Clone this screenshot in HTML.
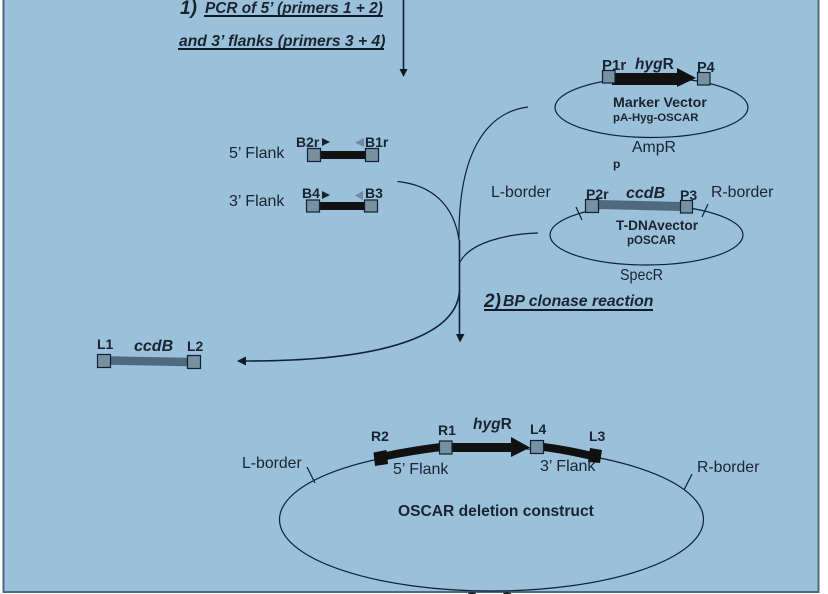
<!DOCTYPE html>
<html><head><meta charset="utf-8"><style>
html,body{margin:0;padding:0;background:#fff}
svg{display:block}
text{font-family:"Liberation Sans",sans-serif;fill:#1a2430}
.b{font-weight:bold}
.i{font-style:italic}
.n{fill:none;stroke:#0d2236;stroke-width:1.2}
.t{fill:none;stroke:#0d2236;stroke-width:1.6}
.s{fill:#78909f;stroke:#0d2236;stroke-width:1.2}
</style></head><body>
<svg width="828" height="594" viewBox="0 0 828 594" xmlns="http://www.w3.org/2000/svg">
<rect x="3.500" y="-3" width="815" height="595" fill="#9ac0da" stroke="#4a6a80" stroke-width="2"/>

<!-- step 1 -->
<text x="180" y="14" class="b i" font-size="19">1)</text>
<text x="205" y="13" class="b i" font-size="15.400">PCR of 5’ (primers 1 + 2)</text>
<rect x="204" y="15" width="179" height="2" fill="#0d1a28"/>
<text x="179" y="46" class="b i" font-size="15.700">and 3’ flanks (primers 3 + 4)</text>
<rect x="178" y="48" width="206" height="2" fill="#0d1a28"/>
<path d="M403.500 0V70" class="t"/>
<path d="M399.500 69H407.500L403.500 77Z" fill="#0d1a28"/>

<!-- Marker vector -->
<ellipse cx="651.500" cy="107.500" rx="96.500" ry="30" class="n"/>
<rect x="612" y="73" width="66" height="12" fill="#111"/>
<path d="M677 68L696 78L677 87Z" fill="#111"/>
<rect x="602.500" y="70.500" width="12.500" height="12.500" class="s"/>
<rect x="697.500" y="72.500" width="12.500" height="12.500" class="s"/>
<text x="602" y="70" font-size="15" class="b">P1r</text>
<text x="635" y="69" font-size="15.500" class="b"><tspan class="i">hyg</tspan>R</text>
<text x="697" y="72" font-size="14.500" class="b">P4</text>
<text x="613" y="107" font-size="14.200" class="b">Marker Vector</text>
<text x="613" y="121" font-size="11.400" class="b">pA-Hyg-OSCAR</text>
<text x="632" y="152" font-size="15.800">AmpR</text>
<text x="613" y="168" font-size="12" class="b">p</text>

<!-- T-DNA vector -->
<ellipse cx="646.500" cy="235" rx="96.500" ry="30" class="n"/>
<path d="M598 204.500L682 206.500" stroke="#4f6a7e" stroke-width="9" fill="none"/>
<rect x="585.500" y="199.500" width="13" height="13" class="s"/>
<rect x="680.500" y="200.500" width="12" height="12.500" class="s"/>
<path d="M576 207L582 220M702 217L708 204" class="n"/>
<text x="491" y="197" font-size="15.800">L-border</text>
<text x="586" y="199" font-size="14" class="b">P2r</text>
<text x="626" y="198" font-size="16" class="b i">ccdB</text>
<text x="680" y="200" font-size="14" class="b">P3</text>
<text x="711" y="197" font-size="15.800">R-border</text>
<text x="616" y="230" font-size="13.500" class="b" textLength="82" lengthAdjust="spacingAndGlyphs">T-DNAvector</text>
<text x="627" y="244" font-size="11.500" class="b">pOSCAR</text>
<text x="620" y="280" font-size="15.800" textLength="43" lengthAdjust="spacingAndGlyphs">SpecR</text>

<!-- step 2 -->
<text x="484" y="307" class="b i" font-size="19">2)</text>
<text x="503" y="306" class="b i" font-size="15.800">BP clonase reaction</text>
<rect x="484" y="309" width="169" height="2" fill="#0d1a28"/>

<!-- flanks -->
<text x="229" y="158" font-size="16">5’ Flank</text>
<text x="229" y="206" font-size="16">3’ Flank</text>
<rect x="320" y="151" width="47" height="8" fill="#111"/>
<rect x="307.500" y="148.500" width="13" height="13" class="s"/>
<rect x="365.500" y="148.500" width="13" height="13" class="s"/>
<text x="296" y="147" font-size="14" class="b">B2r</text>
<text x="365" y="147" font-size="14" class="b">B1r</text>
<path d="M322 138L330 142L322 146Z" fill="#1a2430"/>
<path d="M364 138L355 142.500L364 147Z" fill="#6f8aa3"/>
<rect x="319" y="202" width="47" height="8" fill="#111"/>
<rect x="306.500" y="200" width="13" height="12" class="s"/>
<rect x="364.500" y="200" width="13" height="12" class="s"/>
<text x="302" y="198" font-size="14" class="b">B4</text>
<text x="365" y="198" font-size="14" class="b">B3</text>
<path d="M322 191L330 195L322 199Z" fill="#1a2430"/>
<path d="M363 191L355 195.500L363 200Z" fill="#6f8aa3"/>

<!-- connectors -->
<path d="M528 107C488 112 458 150 459 240" class="n"/>
<path d="M397.500 181.500C432 185 454 205 459 240" class="n"/>
<path d="M538 233C505 234 470 243 460 262" class="n"/>
<path d="M459.500 240V335" class="t"/>
<path d="M456 334H464.500L460 342.500Z" fill="#0d1a28"/>
<path d="M459.500 290C458 330 400 361 245 361" class="t"/>
<path d="M246 356.500V365.500L237 361Z" fill="#0d1a28"/>

<!-- ccdB -->
<path d="M110 360.500L188 362" stroke="#4f6a7e" stroke-width="8.500" fill="none"/>
<rect x="97.500" y="354.500" width="13" height="13" class="s"/>
<rect x="187.500" y="355.500" width="13" height="13" class="s"/>
<text x="97" y="349" font-size="14" class="b">L1</text>
<text x="134" y="351" font-size="16" class="b i">ccdB</text>
<text x="187" y="351" font-size="14" class="b">L2</text>

<!-- deletion construct -->
<ellipse cx="491.500" cy="519.500" rx="212" ry="71.500" class="n"/>
<path d="M307 467L315 483M684 490L692 474" class="n"/>
<path d="M386 456C405 452 425 449 441 447" stroke="#111" stroke-width="8" fill="none"/>
<path d="M373.500 452.500L386.500 450L388 464L375 466Z" fill="#111"/>
<rect x="451" y="443" width="60" height="9" fill="#111"/>
<path d="M511 437L530 447.500L511 457Z" fill="#111"/>
<path d="M543 447C560 449 575 452 592 456" stroke="#111" stroke-width="8" fill="none"/>
<path d="M590 448L602 450L600 463L588 462Z" fill="#111"/>
<rect x="439.500" y="441" width="12.500" height="13" class="s"/>
<rect x="530.500" y="440.500" width="13" height="13" class="s"/>
<text x="371" y="441" font-size="14" class="b">R2</text>
<text x="438" y="435" font-size="14" class="b">R1</text>
<text x="473" y="429" font-size="15.500" class="b"><tspan class="i">hyg</tspan>R</text>
<text x="530" y="434" font-size="14" class="b">L4</text>
<text x="589" y="441" font-size="14" class="b">L3</text>
<text x="393" y="474" font-size="16">5’ Flank</text>
<text x="540" y="471" font-size="16">3’ Flank</text>
<text x="242" y="468" font-size="15.800">L-border</text>
<text x="697" y="472" font-size="15.800">R-border</text>
<text x="398" y="516" font-size="15.600" class="b">OSCAR deletion construct</text>
<path d="M468 594a4 2 0 0 1 8 0ZM503 594a4 2 0 0 1 8 0Z" fill="#222"/>
</svg>
</body></html>
